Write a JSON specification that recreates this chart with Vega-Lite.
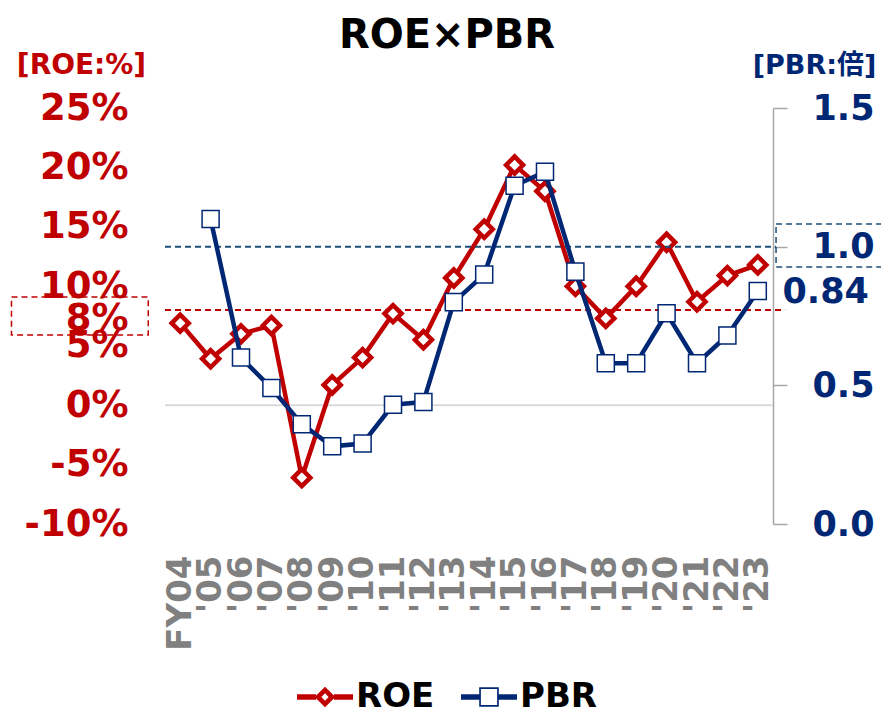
{
  "$schema": "https://vega.github.io/schema/vega-lite/v6.json",
  "width": 608,
  "height": 416,
  "autosize": {"type": "none"},
  "padding": {"left": 165, "top": 108, "right": 108, "bottom": 190},
  "background": "white",
  "config": {"view": {"stroke": null}, "font": "DejaVu Sans",
    "axisX": {"title": null, "labelExpr": "[\"FY04\",\"'05\",\"'06\",\"'07\",\"'08\",\"'09\",\"'10\",\"'11\",\"'12\",\"'13\",\"'14\",\"'15\",\"'16\",\"'17\",\"'18\",\"'19\",\"'20\",\"'21\",\"'22\",\"'23\"][datum.value]", "labelAngle": -90, "labelAlign": "right", "labelBaseline": "middle", "labelFontSize": 34, "labelFontWeight": "bold", "labelColor": "#808080", "labelPadding": 31, "labelSeparation": -40, "domain": false, "ticks": false, "grid": false, "labelOverlap": false, "labelBound": false, "labelFlush": false}},
  "title": {"text": "ROE×PBR", "font": "DejaVu Sans", "fontSize": 40, "fontWeight": "bold", "color": "black", "anchor": "middle", "dx": -22, "offset": -5},
  "data": {"values": [
    {"i": 0, "fy": "FY04", "roe": 6.9, "pbr": null},
    {"i": 1, "fy": "'05", "roe": 3.9, "pbr": 1.10},
    {"i": 2, "fy": "'06", "roe": 6.0, "pbr": 0.60},
    {"i": 3, "fy": "'07", "roe": 6.7, "pbr": 0.49},
    {"i": 4, "fy": "'08", "roe": -6.1, "pbr": 0.36},
    {"i": 5, "fy": "'09", "roe": 1.7, "pbr": 0.28},
    {"i": 6, "fy": "'10", "roe": 4.0, "pbr": 0.29},
    {"i": 7, "fy": "'11", "roe": 7.7, "pbr": 0.43},
    {"i": 8, "fy": "'12", "roe": 5.5, "pbr": 0.44},
    {"i": 9, "fy": "'13", "roe": 10.7, "pbr": 0.80},
    {"i": 10, "fy": "'14", "roe": 14.8, "pbr": 0.90},
    {"i": 11, "fy": "'15", "roe": 20.2, "pbr": 1.22},
    {"i": 12, "fy": "'16", "roe": 18.0, "pbr": 1.27},
    {"i": 13, "fy": "'17", "roe": 10.0, "pbr": 0.91},
    {"i": 14, "fy": "'18", "roe": 7.3, "pbr": 0.58},
    {"i": 15, "fy": "'19", "roe": 10.0, "pbr": 0.58},
    {"i": 16, "fy": "'20", "roe": 13.7, "pbr": 0.76},
    {"i": 17, "fy": "'21", "roe": 8.7, "pbr": 0.58},
    {"i": 18, "fy": "'22", "roe": 10.9, "pbr": 0.68},
    {"i": 19, "fy": "'23", "roe": 11.8, "pbr": 0.84}
  ]},
  "layer": [
    {
      "layer": [
        {
          "data": {"values": [{"level": 0}]},
          "mark": {"type": "rule", "color": "#D9D9D9", "strokeWidth": 2},
          "encoding": {
            "x": {"datum": -0.5, "type": "quantitative", "axis": {"values": [0,1,2,3,4,5,6,7,8,9,10,11,12,13,14,15,16,17,18,19], "labelOverlap": false, "labelSeparation": -40}},
            "x2": {"datum": 19.5},
            "y": {"field": "level", "type": "quantitative"}
          }
        },
        {
          "data": {"values": [{"level": 8}]},
          "mark": {"type": "rule", "color": "#C00000", "strokeWidth": 2, "strokeDash": [6, 4]},
          "encoding": {
            "x": {"datum": -0.5, "type": "quantitative", "axis": {"values": [0,1,2,3,4,5,6,7,8,9,10,11,12,13,14,15,16,17,18,19], "labelOverlap": false, "labelSeparation": -40}},
            "x2": {"datum": 19.9},
            "y": {"field": "level", "type": "quantitative"}
          }
        },
        {
          "data": {"values": [{"lo": 5.9, "hi": 9.1}]},
          "mark": {"type": "rect", "filled": false, "stroke": "#C00000", "strokeWidth": 1.5, "strokeDash": [6, 4]},
          "encoding": {
            "x": {"datum": -5.55, "type": "quantitative", "axis": {"values": [0,1,2,3,4,5,6,7,8,9,10,11,12,13,14,15,16,17,18,19], "labelOverlap": false, "labelSeparation": -40}},
            "x2": {"datum": -1.05},
            "y": {"field": "hi", "type": "quantitative"},
            "y2": {"field": "lo"}
          }
        },
        {
          "mark": {"type": "line", "strokeWidth": 4.5, "point": {"shape": "diamond", "filled": false, "fill": "white", "strokeWidth": 4.5, "size": 290}},
          "encoding": {
            "x": {"field": "i", "type": "quantitative", "scale": {"domain": [-0.5, 19.5], "nice": false, "zero": false},
              "axis": {"values": [0,1,2,3,4,5,6,7,8,9,10,11,12,13,14,15,16,17,18,19], "labelOverlap": false, "labelSeparation": -40}},
            "y": {"field": "roe", "type": "quantitative", "scale": {"domain": [-10, 25], "nice": false, "zero": false},
              "axis": {"orient": "left", "title": "[ROE:%]", "titleAngle": 0, "titleX": -84, "titleY": -43, "titleAlign": "center", "titleBaseline": "middle", "titleFontSize": 28, "titleFontWeight": "bold", "titleColor": "#C00000",
                "values": [-10, -5, 0, 5, 8, 10, 15, 20, 25], "labelExpr": "datum.value + '%'", "labelFontSize": 37, "labelFontWeight": "bold", "labelColor": "#C00000", "labelPadding": 37, "labelOffset": {"condition": {"test": "datum.value == 8", "value": 8}, "value": 0}, "domain": false, "ticks": false, "grid": false, "labelOverlap": false, "labelBound": false, "labelFlush": false}},
            "color": {"datum": "ROE", "scale": {"domain": ["ROE", "PBR"], "range": ["#C00000", "#002774"]},
              "legend": {"orient": "none", "legendX": 132, "legendY": 561, "direction": "horizontal", "title": null, "labelFontSize": 34, "labelFontWeight": "bold", "labelColor": "black", "labelLimit": 0, "symbolSize": 3136, "labelOffset": 3, "columnPadding": 26,
                "encode": {"symbols": {"update": {
                  "shape": {"signal": "datum.value === 'ROE' ? 'M-1,-0.1L-0.32,-0.1L-0.32,0.1L-1,0.1ZM0.32,-0.1L1,-0.1L1,0.1L0.32,0.1ZM0,-0.37L0.37,0L0,0.37L-0.37,0ZM0,-0.13L-0.13,0L0,0.13L0.13,0Z' : 'M-1,-0.1L-0.35,-0.1L-0.35,0.1L-1,0.1ZM0.35,-0.1L1,-0.1L1,0.1L0.35,0.1ZM-0.35,-0.35L0.35,-0.35L0.35,0.35L-0.35,0.35ZM-0.29,-0.29L-0.29,0.29L0.29,0.29L0.29,-0.29Z'"},
                  "fill": {"signal": "datum.value === 'ROE' ? '#C00000' : '#002774'"},
                  "fillOpacity": {"value": 1},
                  "strokeWidth": {"value": 0},
                  "stroke": {"value": "transparent"}
                }}}}}
          }
        }
      ]
    },
    {
      "layer": [
        {
          "data": {"values": [{"level": 1.0}]},
          "mark": {"type": "rule", "color": "#1F4E79", "strokeWidth": 2, "strokeDash": [6, 4]},
          "encoding": {
            "x": {"datum": -0.5, "type": "quantitative", "axis": {"values": [0,1,2,3,4,5,6,7,8,9,10,11,12,13,14,15,16,17,18,19], "labelOverlap": false, "labelSeparation": -40}},
            "x2": {"datum": 19.6},
            "y": {"field": "level", "type": "quantitative"}
          }
        },
        {
          "data": {"values": [{"lo": 0.927, "hi": 1.082}]},
          "mark": {"type": "rect", "filled": false, "stroke": "#1F4E79", "strokeWidth": 1.5, "strokeDash": [6, 4]},
          "encoding": {
            "x": {"datum": 19.6, "type": "quantitative", "axis": {"values": [0,1,2,3,4,5,6,7,8,9,10,11,12,13,14,15,16,17,18,19], "labelOverlap": false, "labelSeparation": -40}},
            "x2": {"datum": 23.6},
            "y": {"field": "hi", "type": "quantitative"},
            "y2": {"field": "lo"}
          }
        },
        {
          "mark": {"type": "line", "strokeWidth": 4.5, "point": {"shape": "square", "filled": false, "fill": "white", "strokeWidth": 1.5, "size": 290}},
          "encoding": {
            "x": {"field": "i", "type": "quantitative", "axis": {"values": [0,1,2,3,4,5,6,7,8,9,10,11,12,13,14,15,16,17,18,19], "labelOverlap": false, "labelSeparation": -40}},
            "y": {"field": "pbr", "type": "quantitative", "scale": {"domain": [0, 1.5], "nice": false, "zero": false},
              "axis": {"orient": "right", "title": "[PBR:倍]", "titleFont": "DejaVu Sans, Noto Sans CJK JP", "titleAngle": 0, "titleX": 41, "titleY": -43, "titleAlign": "center", "titleBaseline": "middle", "titleFontSize": 27, "titleFontWeight": "bold", "titleColor": "#002774",
                "values": [0, 0.5, 0.84, 1.0, 1.5], "labelExpr": "datum.value == 0.84 ? '0.84' : format(datum.value, '.1f')", "labelFontSize": 35, "labelFontWeight": "bold", "labelColor": "#002774", "labelPadding": {"condition": {"test": "datum.value == 0.84", "value": -5}, "value": 25}, "domain": true, "domainColor": "#A6A6A6", "domainWidth": 1.5, "ticks": true, "tickSize": 14, "tickColor": "#A6A6A6", "tickWidth": 1.5, "tickOpacity": {"condition": {"test": "datum.value == 0.84", "value": 0}, "value": 1}, "grid": false, "labelOverlap": false, "labelBound": false, "labelFlush": false}},
            "color": {"datum": "PBR"}
          }
        }
      ]
    }
  ],
  "resolve": {"scale": {"y": "independent"}}
}
